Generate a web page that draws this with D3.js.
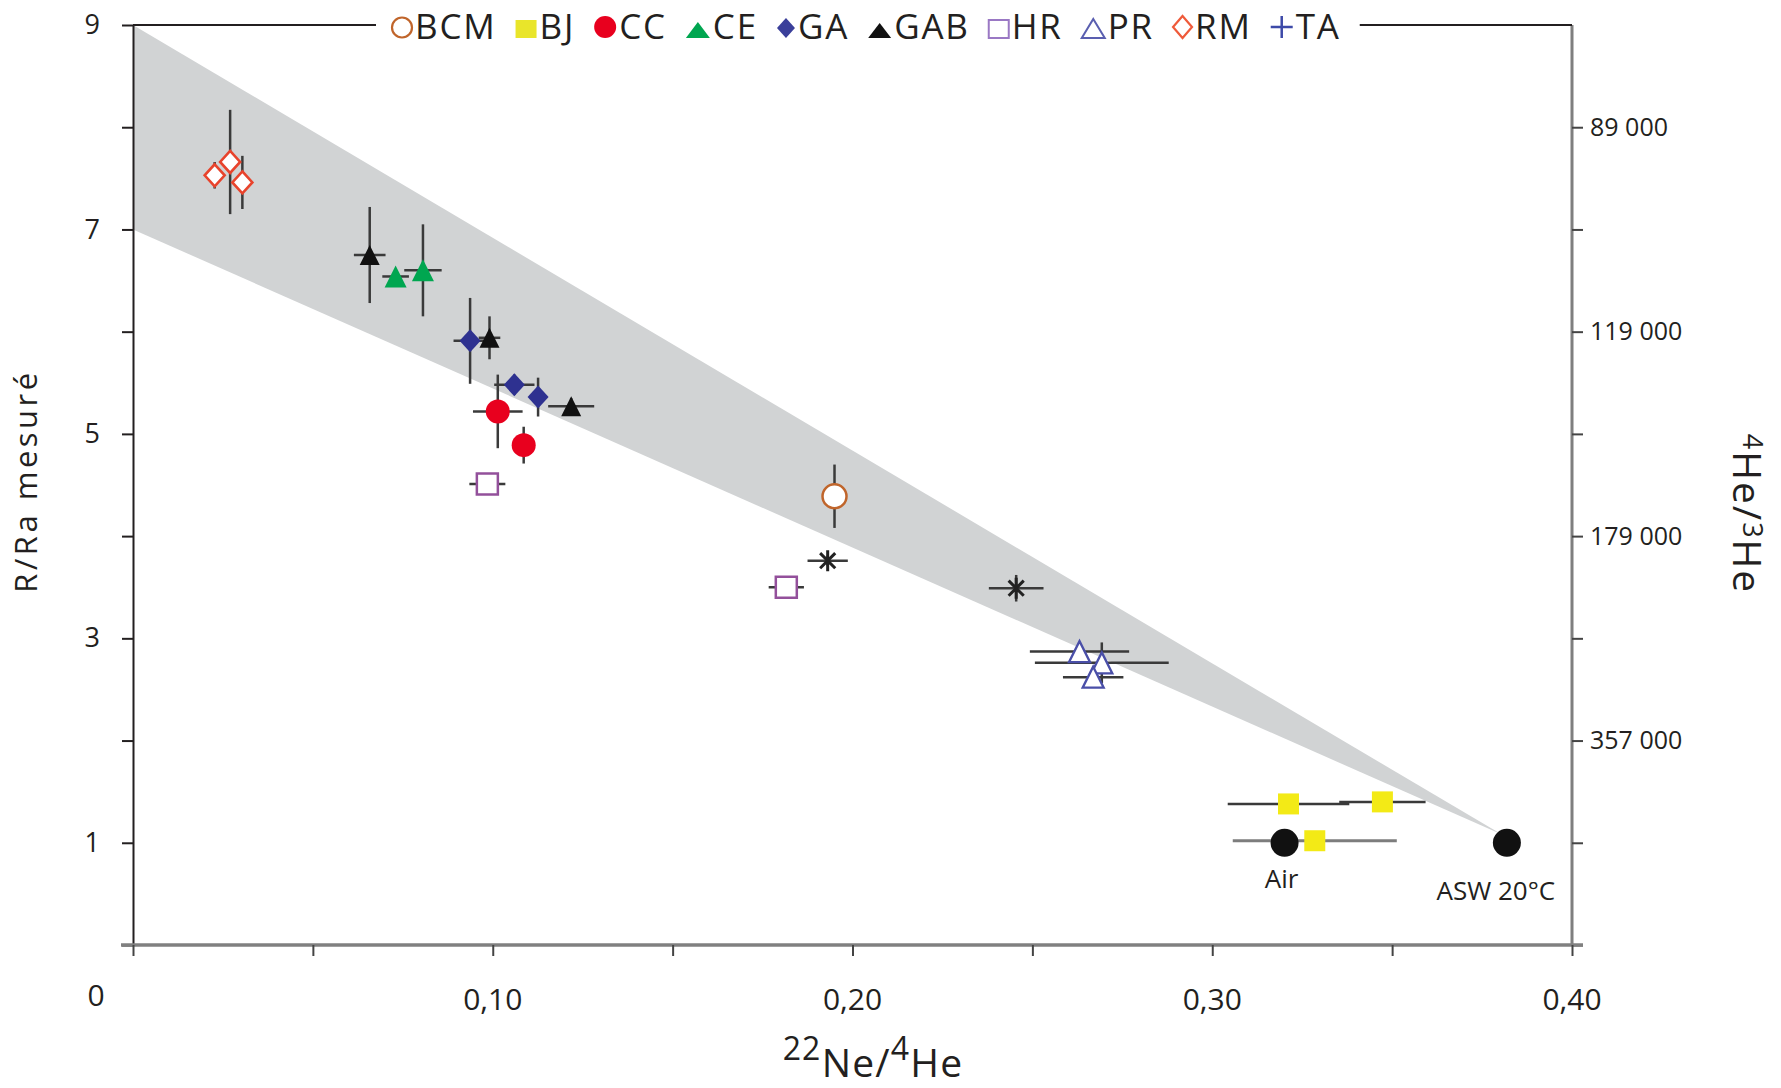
<!DOCTYPE html>
<html><head><meta charset="utf-8">
<script src="https://cdn.jsdelivr.net/npm/d3@7"></script>
<style>
body{margin:0;background:#fff}
svg{display:block}
text{font-family:"Open Sans",sans-serif;fill:#231f20}
</style>
</head><body>
<svg id="c" width="1781" height="1088"></svg>
<script>
// ---------------- DATA ----------------
const seriesNames = ["BCM","BJ","CC","CE","GA","GAB","HR","PR","RM","TA"];

const pointSeries = ["RM","RM","RM","GAB","GAB","GAB","CE","CE","GA","GA","GA","CC","CC","HR","HR","BCM","TA","TA","PR","PR","PR","BJ","BJ","BJ"];
const pointX    = [0.0227,0.0270,0.0304,0.0658,0.0991,0.1218,0.0730,0.0806,0.0937,0.1060,0.1126,0.1014,0.1086,0.0985,0.1816,0.1950,0.1931,0.2455,0.2631,0.2693,0.2669,0.3212,0.3473,0.3285];
const pointY    = [7.53,7.66,7.46,6.75,5.94,5.27,6.54,6.60,5.91,5.48,5.36,5.22,4.89,4.51,3.50,4.39,3.76,3.49,2.87,2.76,2.62,1.38,1.40,1.02];
const pointXErr = [0,0,0,0.0044,0.0030,0.0064,0.0037,0.0052,0.0046,0.0056,0.0020,0.0069,0.0020,0.0050,0.0049,0,0.0056,0.0076,0.0138,0.0186,0.0084,0.0169,0.0120,0.0228];
const pointYErr = [0.13,0.51,0.26,0.47,0.21,0.08,0.05,0.45,0.42,0.10,0.19,0.36,0.18,0.04,0.04,0.31,0.05,0.13,0,0.20,0,0,0,0];

const refNames = ["Air","ASW 20°C"];
const refX = [0.3201,0.3819];
const refY = [1.0,1.0];

const bandX = [0,0,0.3805];
const bandY = [9,7,1.08];

const xTickValues = [0,0.05,0.10,0.15,0.20,0.25,0.30,0.35,0.40];
const xTickLabels = ["0","","0,10","","0,20","","0,30","","0,40"];
const yTickValues = [0,1,2,3,4,5,6,7,8,9];
const yTickLabels = ["","1","","3","","5","","7","","9"];
const rightTickValues = [0,1,2,3,4,5,6,7,8];
const rightTickLabels = ["","","357 000","","179 000","","119 000","","89 000"];

// ---------------- STYLES ----------------
const plotStyle = {
  BCM:{shape:"circle",w:24,h:24,fill:"#fff",stroke:"#c0652b",sw:2.5},
  BJ:{shape:"square",w:21,h:21,fill:"#f3ea16",stroke:"none",sw:0},
  CC:{shape:"circle",w:24,h:24,fill:"#e8001e",stroke:"none",sw:0},
  CE:{shape:"triangle",w:22,h:22,fill:"#00a650",stroke:"none",sw:0},
  GA:{shape:"diamond",w:21,h:23,fill:"#2e3190",stroke:"none",sw:0},
  GAB:{shape:"triangle",w:20,h:20,fill:"#111",stroke:"none",sw:0},
  HR:{shape:"square",w:21,h:21,fill:"#fff",stroke:"#93509b",sw:2.5},
  PR:{shape:"triangle",w:21,h:21,fill:"#fff",stroke:"#4a4fa8",sw:2.3},
  RM:{shape:"diamond",w:20,h:22,fill:"#fff",stroke:"#e8432c",sw:2.6},
  TA:{shape:"asterisk",w:21,h:21,fill:"none",stroke:"#222",sw:3}
};
const legendStyle = {
  BCM:{shape:"circle",w:20,h:21,fill:"#fff",stroke:"#c0652b",sw:2.2},
  BJ:{shape:"square",w:21,h:18,fill:"#e9e52a",stroke:"none",sw:0},
  CC:{shape:"circle",w:22,h:22,fill:"#e8001e",stroke:"none",sw:0},
  CE:{shape:"triangle",w:24,h:16,fill:"#00a650",stroke:"none",sw:0},
  GA:{shape:"diamond",w:18,h:20,fill:"#3a3f9a",stroke:"none",sw:0},
  GAB:{shape:"triangle",w:23,h:15,fill:"#111",stroke:"none",sw:0},
  HR:{shape:"square",w:20,h:18,fill:"#fff",stroke:"#9a78c4",sw:2},
  PR:{shape:"triangle",w:23,h:19,fill:"#fff",stroke:"#5a5fb0",sw:2},
  RM:{shape:"diamond",w:19,h:22,fill:"#fff",stroke:"#ef5a3a",sw:2.2},
  TA:{shape:"plus",w:22,h:22,fill:"none",stroke:"#3d4aa8",sw:2.5}
};

function shapePath(shape,w,h){
  const p = d3.path();
  if(shape==="circle"){ p.arc(0,0,w/2,0,2*Math.PI); p.closePath(); }
  else if(shape==="square"){ p.rect(-w/2,-h/2,w,h); }
  else if(shape==="diamond"){ p.moveTo(0,-h/2); p.lineTo(w/2,0); p.lineTo(0,h/2); p.lineTo(-w/2,0); p.closePath(); }
  else if(shape==="triangle"){ p.moveTo(0,-h/2); p.lineTo(w/2,h/2); p.lineTo(-w/2,h/2); p.closePath(); }
  else if(shape==="plus"){ p.moveTo(-w/2,0); p.lineTo(w/2,0); p.moveTo(0,-h/2); p.lineTo(0,h/2); }
  else if(shape==="asterisk"){
    p.moveTo(0,-h/2); p.lineTo(0,h/2);
    const a = w*0.36;
    p.moveTo(-a,-a); p.lineTo(a,a); p.moveTo(-a,a); p.lineTo(a,-a);
  }
  return p.toString();
}

// ---------------- CHART ----------------
const svg = d3.select("#c");
const x = d3.scaleLinear().domain([0,0.4]).range([133,1572]);
const y = d3.scaleLinear().domain([0,9]).range([945,25]);

// mixing band
svg.append("path")
  .datum(d3.zip(bandX,bandY))
  .attr("d", d3.line().x(d=>x(d[0])).y(d=>y(d[1])).curve(d3.curveLinearClosed))
  .attr("fill","#d1d3d4");

// error bars
const eb = svg.append("g").attr("stroke","#3a3a3a").attr("stroke-width",2.5).attr("fill","none");
pointX.forEach((px,i)=>{
  const grey = i===23;
  if(pointXErr[i]>0) eb.append("line").attr("x1",x(px-pointXErr[i])).attr("x2",x(px+pointXErr[i])).attr("y1",y(pointY[i])).attr("y2",y(pointY[i]))
    .attr("stroke",grey?"#7d7d7d":"#3a3a3a").attr("stroke-width",grey?3.2:2.5);
  if(pointYErr[i]>0) eb.append("line").attr("x1",x(px)).attr("x2",x(px)).attr("y1",y(pointY[i]-pointYErr[i])).attr("y2",y(pointY[i]+pointYErr[i]));
});

// reference circles (Air, ASW)
svg.append("g").selectAll("circle").data(refX).join("circle")
  .attr("cx",d=>x(d)).attr("cy",(d,i)=>y(refY[i])).attr("r",14).attr("fill","#111");

// markers
svg.append("g").selectAll("path").data(pointX).join("path")
  .attr("transform",(d,i)=>`translate(${x(d)},${y(pointY[i])})`)
  .attr("d",(d,i)=>{const s=plotStyle[pointSeries[i]]; return shapePath(s.shape,s.w,s.h);})
  .attr("fill",(d,i)=>plotStyle[pointSeries[i]].fill)
  .attr("stroke",(d,i)=>plotStyle[pointSeries[i]].stroke)
  .attr("stroke-width",(d,i)=>plotStyle[pointSeries[i]].sw)
  .attr("stroke-linejoin","miter");

// reference labels
const refDx = [-3,-11], refDy = [45,57];
svg.append("g").selectAll("text").data(refNames).join("text")
  .attr("x",(d,i)=>x(refX[i])+refDx[i]).attr("y",(d,i)=>y(refY[i])+refDy[i])
  .attr("text-anchor","middle").attr("font-size",26).text(d=>d);

// left axis
const gL = svg.append("g").attr("transform",`translate(${x(0)},0)`)
  .call(d3.axisLeft(y).tickValues(yTickValues).tickSize(11).tickSizeOuter(0).tickPadding(22).tickFormat((d,i)=>yTickLabels[i]));
gL.attr("font-family",null).attr("font-size",null);
gL.select(".domain").attr("stroke","#231f20").attr("stroke-width",2);
gL.selectAll(".tick line").attr("stroke","#231f20").attr("stroke-width",2);
gL.selectAll(".tick text").attr("font-size",27).attr("fill","#231f20");

// right axis
const gR = svg.append("g").attr("transform",`translate(${x(0.4)},0)`)
  .call(d3.axisRight(y).tickValues(rightTickValues).tickSize(11).tickSizeOuter(0).tickPadding(7).tickFormat((d,i)=>rightTickLabels[i]));
gR.attr("font-family",null).attr("font-size",null);
gR.select(".domain").attr("stroke","#7f7f7f").attr("stroke-width",3).attr("d",`M0,${y(0)}V${y(9)}`);
gR.selectAll(".tick line").attr("stroke","#444").attr("stroke-width",2);
gR.selectAll(".tick text").attr("font-size",25).attr("fill","#231f20");

// bottom axis
const gB = svg.append("g").attr("transform",`translate(0,${y(0)})`)
  .call(d3.axisBottom(x).tickValues(xTickValues).tickSize(11).tickSizeOuter(0).tickFormat(""));
gB.select(".domain").attr("stroke","#808080").attr("stroke-width",3.5).attr("d",`M${x(0)-12},0H${x(0.4)+11}`);
gB.selectAll(".tick line").attr("stroke","#444").attr("stroke-width",2);
svg.append("g").selectAll("text").data(xTickValues).join("text")
  .attr("x",(d,i)=>x(d)+(i===0?-37:0)).attr("y",(d,i)=>i===0?1006:1010)
  .attr("text-anchor","middle").attr("font-size",30)
  .text((d,i)=>xTickLabels[i]);

// axis titles
const xt = svg.append("text").attr("x",873).attr("y",1060).attr("text-anchor","middle").attr("letter-spacing",1.2);
xt.append("tspan").attr("font-size",32).text("22");
xt.append("tspan").attr("font-size",39).attr("dy",17).text("Ne/");
xt.append("tspan").attr("font-size",32).attr("dy",-17).text("4");
xt.append("tspan").attr("font-size",39).attr("dy",17).text("He");

svg.append("text").attr("transform","translate(37,481) rotate(-90)")
  .attr("text-anchor","middle").attr("font-size",31).attr("letter-spacing",3.5).text("R/Ra mesuré");

const rt = svg.append("text").attr("transform","translate(1733,514) rotate(90)")
  .attr("text-anchor","middle").attr("letter-spacing",2);
rt.append("tspan").attr("font-size",27).attr("dy",-10).text("4");
rt.append("tspan").attr("font-size",39).attr("dy",10).text("He/");
rt.append("tspan").attr("font-size",27).attr("dy",-10).text("3");
rt.append("tspan").attr("font-size",39).attr("dy",10).text("He");

// legend
const lg = svg.append("g");
let lx = 392;
const legBase = 39, legGap = 19;
seriesNames.forEach(name=>{
  const s = legendStyle[name];
  lg.append("path").attr("transform",`translate(${lx+s.w/2},${legBase-1-s.h/2})`)
    .attr("d",shapePath(s.shape,s.w,s.h)).attr("fill",s.fill).attr("stroke",s.stroke).attr("stroke-width",s.sw);
  const t = lg.append("text").attr("x",lx+s.w+3).attr("y",legBase).attr("font-size",35).attr("letter-spacing",1.8).text(name);
  lx = lx + s.w + 3 + t.node().getComputedTextLength() + legGap;
});
const legEnd = lx - legGap;
// top frame line, interrupted by legend
svg.append("line").attr("x1",x(0)).attr("x2",392-16).attr("y1",y(9)).attr("y2",y(9)).attr("stroke","#231f20").attr("stroke-width",2);
svg.append("line").attr("x1",legEnd+19).attr("x2",x(0.4)).attr("y1",y(9)).attr("y2",y(9)).attr("stroke","#231f20").attr("stroke-width",2);
</script>
</body></html>
